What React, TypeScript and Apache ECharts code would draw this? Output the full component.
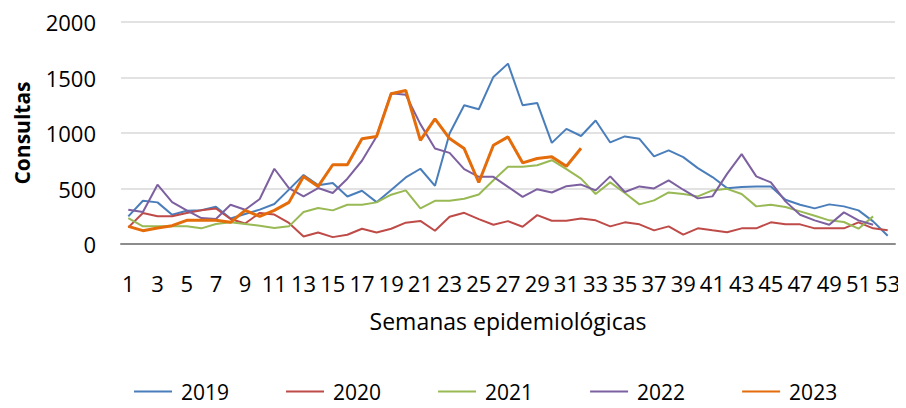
import React, { useEffect, useRef } from "react";
import * as echarts from "echarts";

const weeks: string[] = Array.from({ length: 53 }, (_, i) => String(i + 1));

const s2019: number[] = [
  249, 390, 375, 264, 300, 305, 336, 230, 270, 310, 360, 490, 622, 530, 550, 428, 480, 377, 486, 600,
  678, 524, 995, 1250, 1214, 1505, 1625, 1250, 1271, 911, 1037, 973, 1113, 915, 969, 948, 789, 843, 783, 684,
  603, 503, 513, 519, 519, 399, 354, 321, 357, 339, 303, 204, 75,
];
const s2020: number[] = [
  150, 280, 250, 250, 280, 305, 320, 225, 185, 280, 265, 190, 68, 104, 62, 83, 137, 104, 137, 192,
  208, 119, 245, 281, 224, 173, 206, 155, 260, 209, 209, 229, 213, 159, 195, 177, 123, 159, 84, 141,
  123, 106, 141, 141, 195, 177, 177, 141, 141, 141, 195, 141, 123,
];
const s2021: number[] = [
  234, 159, 159, 159, 159, 141, 180, 195, 180, 165, 144, 159, 288, 324, 303, 354, 354, 375, 444, 483,
  320, 389, 389, 407, 446, 575, 695, 695, 710, 755, 674, 589, 450, 555, 459, 357, 393, 465, 450, 429,
  483, 497, 450, 339, 354, 333, 294, 255, 213, 198, 138, 249,
];
const s2022: number[] = [
  309, 288, 534, 378, 303, 234, 225, 354, 309, 405, 678, 504, 429, 504, 459, 588, 750, 969, 1359, 1344,
  1080, 860, 821, 674, 605, 605, 515, 425, 494, 464, 521, 535, 483, 609, 468, 519, 501, 573, 489, 411,
  429, 632, 810, 609, 555, 384, 264, 213, 174, 285, 213, 174,
];
const s2023: number[] = [
  159, 120, 144, 165, 213, 213, 213, 195, 303, 249, 303, 375, 609, 519, 714, 714, 948, 969, 1353, 1383,
  934, 1127, 950, 860, 554, 890, 965, 731, 770, 785, 701, 862,
];

const seriesNames = ["2019", "2020", "2021", "2022", "2023"];
const seriesData = [s2019, s2020, s2021, s2022, s2023];
const colors = ["#4A7EBB", "#BE4B48", "#98B954", "#7D60A0", "#E46C0A"];
const widths = [2, 2, 2, 2, 3];

const FONT = "Open Sans";

export default function App() {
  const ref = useRef<HTMLDivElement>(null);
  useEffect(() => {
    if (!ref.current) return;
    const chart = echarts.init(ref.current, undefined, { renderer: "svg" });
    chart.setOption({
      animation: false,
      backgroundColor: "#ffffff",
      textStyle: { fontFamily: FONT, color: "#000" },
      grid: { left: 121, right: 11, top: 22, bottom: 164, containLabel: false },
      legend: {
        left: 128,
        top: 376,
        itemWidth: 38,
        itemHeight: 14,
        itemGap: 56,
        data: seriesNames,
        itemStyle: { opacity: 0 },
        textStyle: { fontFamily: FONT, fontSize: 21, color: "#000", padding: [0, 0, 0, 4] },
      },
      xAxis: {
        type: "category",
        data: weeks,
        boundaryGap: true,
        axisLine: { lineStyle: { color: "#8C8C8C", width: 2 } },
        axisTick: { show: false },
        axisLabel: {
          interval: 1,
          fontFamily: FONT,
          fontSize: 22,
          color: "#000",
          margin: 28,
          lineHeight: 22,
        },
        name: "Semanas epidemiológicas",
        nameLocation: "middle",
        nameGap: 65,
        nameTextStyle: { fontFamily: FONT, fontSize: 23, color: "#000" },
      },
      yAxis: {
        type: "value",
        min: 0,
        max: 2000,
        interval: 500,
        axisLine: { show: false },
        axisTick: { show: false },
        splitLine: { lineStyle: { color: "#D9D9D9", width: 1.5 } },
        axisLabel: {
          fontFamily: FONT,
          fontSize: 22,
          color: "#000",
          margin: 25,
          formatter: (v: number) => String(v),
        },
        name: "Consultas",
        nameLocation: "middle",
        nameGap: 89,
        nameRotate: 90,
        nameTextStyle: { fontFamily: FONT, fontSize: 21, fontWeight: "bold", color: "#000" },
      },
      series: seriesNames.map((n, i) => ({
        name: n,
        type: "line",
        data: seriesData[i],
        symbol: "none",
        showSymbol: false,
        color: colors[i],
        lineStyle: { color: colors[i], width: widths[i] },
        z: i === 4 ? 5 : 2,
      })),
    });
    return () => chart.dispose();
  }, []);
  return <div ref={ref} style={{ width: 906, height: 408, margin: -8 }} />;
}
